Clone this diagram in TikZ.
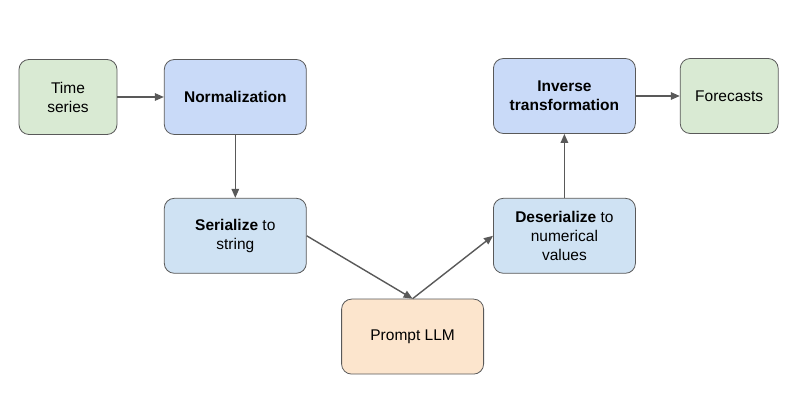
\documentclass[tikz,border=0pt]{standalone}
\usepackage{fontspec}
\setmainfont{Liberation Sans}
\usetikzlibrary{arrows.meta}
\usetikzlibrary{positioning}
\definecolor{tsgreen}{HTML}{D9EAD3}
\definecolor{stepblue}{HTML}{C9DAF8}
\definecolor{serblue}{HTML}{CFE2F3}
\definecolor{llmorange}{HTML}{FCE5CD}
\definecolor{edgegray}{HTML}{595959}
\tikzstyle{block} = [rectangle, rounded corners=10pt, minimum width=142pt, minimum
height=75pt, text centered, align=center, draw=edgegray, line width=0.8pt,
font=\fontsize{15.5}{19}\selectfont]
\tikzstyle{endpoint} = [block, minimum width=98pt, fill=tsgreen]
\tikzstyle{transform} = [block, fill=stepblue]
\tikzstyle{codec} = [block, fill=serblue]
\tikzstyle{llm} = [block, fill=llmorange]
\tikzstyle{arrow} = [edgegray, line width=1.4pt, -{Triangle[length=9pt,width=7.5pt]}]

\begin{document}
\begin{tikzpicture} [x=1pt, y=-1pt, node distance=46.5pt]
    \useasboundingbox (0,0) rectangle (811,411);
    \node (ts) [endpoint] at (68,97) {Time\\series};
    \node (norm) [transform, right=of ts] {\textbf{Normalization}};
    \node (ser) [codec, below=63pt of norm] {\textbf{Serialize} to\\string};
    \node (prompt) [llm, below right=25pt and 34.5pt of ser] {Prompt LLM};
    \node (deser) [codec, above right=25pt and 9pt of prompt] {\textbf{Deserialize} to\\numerical\\values};
    \node (inv) [transform, above=64pt of deser] {\textbf{Inverse}\\\textbf{transformation}};
    \node (fc) [endpoint, right=44pt of inv] {Forecasts};

    \draw[arrow] (ts) -- (norm);
    \draw[arrow] (norm) -- (ser);
    \draw[arrow] (ser.east) -- (prompt.north);
    \draw[arrow] (prompt.north) -- (deser.west);
    \draw[arrow] (deser) -- (inv);
    \draw[arrow] (inv) -- (fc);

\end{tikzpicture}
\end{document}
